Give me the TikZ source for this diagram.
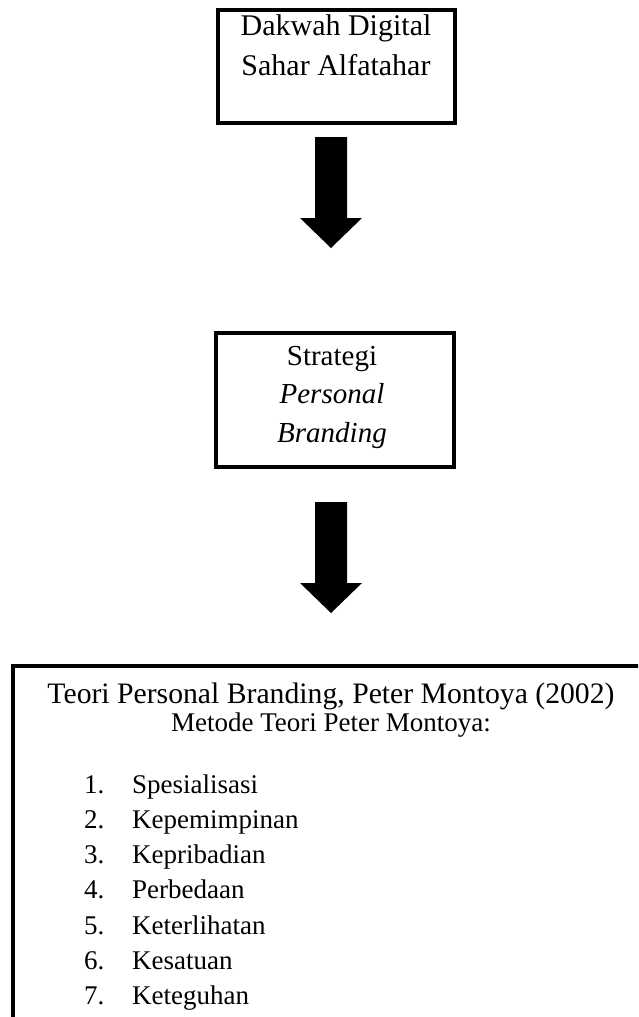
\documentclass[tikz,border=0pt]{standalone}
\usepackage{fontspec}
\setmainfont{Liberation Serif}
\usetikzlibrary{positioning, calc}

\begin{document}
\begin{tikzpicture}[x=1pt, y=-1pt]
    % --- Style Definitions ---
    \tikzset{
        % Thick rectangular frames
        frame box/.style={
            draw=black,
            line width=4pt,
            inner sep=0pt
        },
        % Text inside the upper boxes
        box text/.style={
            font=\fontsize{30}{38}\selectfont,
            anchor=base,
            inner sep=0pt
        },
        % Text of the theory box
        list text/.style={
            font=\fontsize{27}{32}\selectfont,
            anchor=base west,
            inner sep=0pt
        },
        % Solid downward block arrow
        down arrow/.pic={
            \fill[black] (-16,0) -- (16,0) -- (16,81) -- (31,81)
                -- (0,111) -- (-31,81) -- (-16,81) -- cycle;
        }
    }

    \useasboundingbox (0,0) rectangle (638,1017);
    \clip (0,0) rectangle (638,1017);

    % --- 1. Top Box ---
    \node[frame box, minimum width=237, minimum height=113] (dakwah) at (336.5,66.5) {};
    \node[box text] (dakwah1) at (336,35) {Dakwah Digital};
    \node[box text] (dakwah2) at (336,75) {Sahar Alfatahar};

    % --- 2. First Arrow ---
    \pic at (331,137) {down arrow};

    % --- 3. Middle Box ---
    \node[frame box, minimum width=238, minimum height=134] (strategi) at (335,400) {};
    \node[box text, font=\fontsize{29}{36}\selectfont] (strategi1) at (332,365) {Strategi};
    \node[box text, font=\fontsize{29}{36}\selectfont\itshape] (strategi2) at (332,403) {Personal};
    \node[box text, font=\fontsize{29}{36}\selectfont\itshape] (strategi3) at (332,442) {Branding};

    % --- 4. Second Arrow ---
    \pic at (331,502) {down arrow};

    % --- 5. Theory Box (runs past the page) ---
    \draw[frame box] (13,666) rectangle (700,1100);
    \node[box text, font=\fontsize{29.7}{36}\selectfont] (teori) at (331,703)
        {Teori Personal Branding, Peter Montoya (2002)};
    \node[box text, font=\fontsize{27}{32}\selectfont] (metode) at (331,731)
        {Metode Teori Peter Montoya:};

    % --- 6. List of Methods ---
    \foreach \name [count=\i] in {Spesialisasi, Kepemimpinan, Kepribadian,
        Perbedaan, Keterlihatan, Kesatuan, Keteguhan} {
        \node[list text] (num\i) at (84,{793+35.3*(\i-1)}) {\i.};
        \node[list text] (item\i) at (132,{793+35.3*(\i-1)}) {\name};
    }

\end{tikzpicture}
\end{document}
